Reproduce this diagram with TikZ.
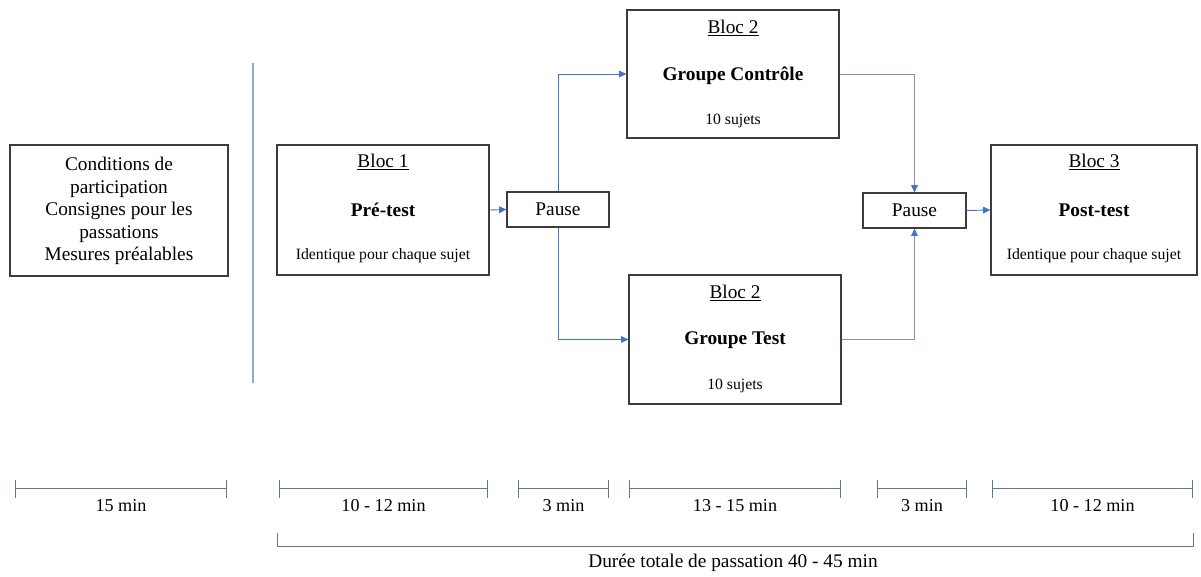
\documentclass[tikz,border=0pt]{standalone}
\usepackage{fontspec}
\setmainfont{Liberation Serif}
\usetikzlibrary{arrows.meta}
\definecolor{boxc}{RGB}{60,60,60}
\definecolor{conn}{RGB}{68,114,196}
\definecolor{connlt}{RGB}{125,148,182}
\definecolor{sepc}{RGB}{150,166,200}
\definecolor{tlc}{RGB}{95,120,148}
\newcommand\fbig{\fontsize{14.5}{16.9}\selectfont}
\newcommand\fsmall{\fontsize{11.8}{14}\selectfont}
\newcommand\ftl{\fontsize{13.6}{16}\selectfont}
\tikzset{
  blk/.style={draw=boxc, line width=0.85pt, rectangle, inner sep=0pt},
  ttl/.style={font=\fbig, inner sep=0pt},
  sub/.style={font=\fsmall, inner sep=0pt},
  tip/.style={-{Triangle[length=5.5pt,width=5pt,color=conn]}},
  cn/.style={draw=conn, line width=0.7pt, tip},
  cnl/.style={draw=connlt, line width=0.75pt, tip},
  seg/.style={draw=tlc, line width=0.75pt, {Bar[width=13.5pt]}-{Bar[width=13.5pt]}},
  tlab/.style={font=\ftl, inner sep=0pt},
}
\begin{document}
\begin{tikzpicture}[x=0.75pt,y=-0.75pt]
\useasboundingbox (0,0) rectangle (1201,576);

% boxes
\node[blk, minimum width=163.5pt, minimum height=98.25pt] (cond) at (119,210.5) {};
\node[font=\fbig, align=center, inner sep=0pt] (condt) at (119,211)
  {Conditions de\\participation\\Consignes pour les\\passations\\Mesures préalables};

\node[blk, minimum width=159pt, minimum height=97.5pt] (bloc1) at (383,210) {};
\node[ttl] (b1a) at (383,162) {\underline{Bloc 1}};
\node[ttl] (b1b) at (383,210) {\textbf{Pré-test}};
\node[sub] (b1c) at (383,256) {Identique pour chaque sujet};

\node[blk, font=\fbig, minimum width=76.5pt, minimum height=26.25pt] (pause1) at (558,209.5) {Pause};

\node[blk, minimum width=159pt, minimum height=96pt] (gc) at (733,74) {};
\node[ttl] (gca) at (733,28) {\underline{Bloc 2}};
\node[ttl] (gcb) at (733,76) {\textbf{Groupe Contrôle}};
\node[sub] (gcc) at (733,121) {10 sujets};

\node[blk, minimum width=159pt, minimum height=96.75pt] (gt) at (735,339.5) {};
\node[ttl] (gta) at (735,293) {\underline{Bloc 2}};
\node[ttl] (gtb) at (735,340) {\textbf{Groupe Test}};
\node[sub] (gtc) at (735,386) {10 sujets};

\node[blk, font=\fbig, minimum width=77.25pt, minimum height=26.25pt] (pause2) at (914.5,210.5) {Pause};

\node[blk, minimum width=154.5pt, minimum height=97.5pt] (bloc3) at (1094,210) {};
\node[ttl] (b3a) at (1094,162) {\underline{Bloc 3}};
\node[ttl] (b3b) at (1094,210) {\textbf{Post-test}};
\node[sub] (b3c) at (1094,256) {Identique pour chaque sujet};

% separator
\coordinate (sepA) at (253,63);
\coordinate (sepB) at (253,383);
\draw[sepc, line width=1.4pt] (sepA) -- (sepB);

% connectors
\draw[cn] (bloc1.east) -- (pause1.west);
\draw[cn] (pause1.north) |- (gc.west);
\draw[cn] (pause1.south) |- (gt.west);
\draw[cnl] (gc.east) -| (pause2.north);
\draw[cnl] (gt.east) -| (pause2.south);
\draw[cn] (pause2.east) -- (bloc3.west);

% timeline
\coordinate (t1a) at (15,488.5);  \coordinate (t1b) at (227,488.5);
\coordinate (t2a) at (279,488.5); \coordinate (t2b) at (488,488.5);
\coordinate (t3a) at (518,488.5); \coordinate (t3b) at (609,488.5);
\coordinate (t4a) at (629,488.5); \coordinate (t4b) at (841,488.5);
\coordinate (t5a) at (877,488.5); \coordinate (t5b) at (967,488.5);
\coordinate (t6a) at (992,488.5); \coordinate (t6b) at (1193,488.5);
\draw[seg] (t1a) -- (t1b);
\draw[seg] (t2a) -- (t2b);
\draw[seg] (t3a) -- (t3b);
\draw[seg] (t4a) -- (t4b);
\draw[seg] (t5a) -- (t5b);
\draw[seg] (t6a) -- (t6b);
\node[tlab] (l1) at (121,506) {15 min};
\node[tlab] (l2) at (383.5,506) {10 - 12 min};
\node[tlab] (l3) at (563.5,506) {3 min};
\node[tlab] (l4) at (735,506) {13 - 15 min};
\node[tlab] (l5) at (922,506) {3 min};
\node[tlab] (l6) at (1092.5,506) {10 - 12 min};

% total bracket
\coordinate (brA) at (277,533);
\coordinate (brB) at (1193,533);
\draw[tlc, line width=0.75pt] (brA) -- ++(0,13) -| (brB);
\node[font=\fbig, inner sep=0pt] (total) at (733,563) {Durée totale de passation 40 - 45 min};
\end{tikzpicture}
\end{document}
